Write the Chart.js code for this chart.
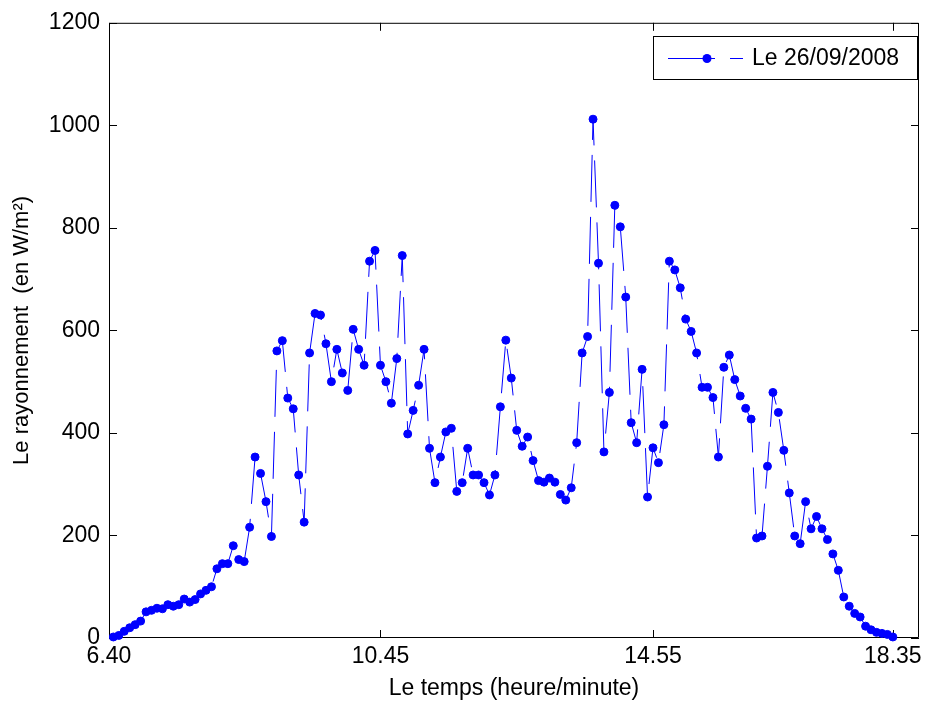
<!DOCTYPE html>
<html>
<head>
<meta charset="utf-8">
<script src="https://cdn.jsdelivr.net/npm/chart.js@4.4.0/dist/chart.umd.min.js"></script>
<style>
  html, body { margin: 0; padding: 0; background: #fff; }
  #chart { display: block; }
</style>
</head>
<body>
<canvas id="chart" width="927" height="704"></canvas>
<script>
// Rayonnement global mesuré toutes les 5 minutes, de 6h40 à 18h35
const dayLabel = "Le 26/09/2008";
const startMinute = 6 * 60 + 40;
const stepMinutes = 5;

const radiation = [
  2, 5, 13, 20, 26, 33, 51, 54, 58, 57, 65, 62, 65, 76, 70, 75, 86, 93, 100, 135,
  145, 145, 180, 153, 149, 216, 353, 321, 266, 198, 560, 580, 468, 447, 318, 226,
  556, 633, 630, 574, 500, 563, 517, 483, 602, 563, 532, 735, 756, 532, 500, 458,
  545, 746, 398, 444, 493, 563, 370, 303, 353, 402, 409, 286, 303, 370, 318, 318,
  303, 279, 318, 451,
  581, 507, 405, 374, 392, 346, 307, 304, 312, 304, 280, 269, 293, 381, 556, 588,
  1012, 731, 363, 479, 844, 802, 665, 420, 381, 524, 275, 371, 342, 416, 735, 718,
  683, 622, 598, 556,
  489, 489, 469, 353, 528, 552, 504, 472, 448, 427, 195, 199, 335, 479, 440, 366,
  283, 199, 184, 266, 213, 237, 213, 192, 164, 132, 80, 62, 48, 41, 23, 16, 11, 9, 7, 2
];

// axe des temps en minutes depuis minuit
const xMin = 396;
const xMax = 1139;
const timeTicks = [396, 645, 895, 1115];
const timeTickLabels = ["6.40", "10.45", "14.55", "18.35"];
const radiationTicks = [0, 200, 400, 600, 800, 1000, 1200];

const points = radiation.map((v, i) => ({ x: startMinute + stepMinutes * i, y: v }));

const BLUE = "#0000ff";
const FONT = "'Liberation Sans', Arial, sans-serif";

// cadre façon Matlab : boîte complète + graduations vers l'intérieur
const axisBox = {
  id: "axisBox",
  beforeDatasetsDraw(chart) {
    const { ctx, chartArea: a, scales } = chart;
    const t = 8;
    ctx.save();
    ctx.strokeStyle = "#000";
    ctx.lineWidth = 1;
    ctx.beginPath();
    ctx.rect(a.left + 0.5, a.top + 0.5, a.right - a.left - 1, a.bottom - a.top - 1);
    radiationTicks.forEach(v => {
      const py = Math.round(scales.y.getPixelForValue(v)) + 0.5;
      ctx.moveTo(a.left, py); ctx.lineTo(a.left + t, py);
      ctx.moveTo(a.right, py); ctx.lineTo(a.right - t, py);
    });
    timeTicks.forEach(v => {
      const px = Math.round(scales.x.getPixelForValue(v)) + 0.5;
      ctx.moveTo(px, a.bottom); ctx.lineTo(px, a.bottom - t);
      ctx.moveTo(px, a.top); ctx.lineTo(px, a.top + t);
    });
    ctx.stroke();
    ctx.restore();
  }
};

// légende encadrée en haut à droite
const boxLegend = {
  id: "boxLegend",
  afterDraw(chart) {
    const { ctx } = chart;
    const ds = chart.data.datasets[0];
    const bx = 653.5, by = 36.5, bw = 264, bh = 43;
    const ly = 58;
    ctx.save();
    ctx.fillStyle = "#fff";
    ctx.strokeStyle = "#000";
    ctx.lineWidth = 1;
    ctx.fillRect(bx, by, bw, bh);
    ctx.strokeRect(bx, by, bw, bh);

    ctx.strokeStyle = ds.borderColor;
    ctx.lineWidth = ds.borderWidth;
    ctx.setLineDash(ds.borderDash);
    ctx.beginPath();
    ctx.moveTo(668, ly + 0.5);
    ctx.lineTo(743, ly + 0.5);
    ctx.stroke();
    ctx.setLineDash([]);

    ctx.fillStyle = ds.pointBackgroundColor;
    ctx.beginPath();
    ctx.arc(707, ly + 0.5, ds.pointRadius + 0.5, 0, Math.PI * 2);
    ctx.fill();

    ctx.fillStyle = "#000";
    ctx.font = "23px " + FONT;
    ctx.textAlign = "left";
    ctx.textBaseline = "middle";
    ctx.fillText(dayLabel, 752, ly + 1);
    ctx.restore();
  }
};

new Chart(document.getElementById("chart"), {
  type: "line",
  data: {
    datasets: [{
      label: dayLabel,
      data: points,
      borderColor: BLUE,
      borderWidth: 1,
      borderDash: [47, 15],
      tension: 0,
      pointRadius: 4,
      pointBorderWidth: 1,
      pointBackgroundColor: BLUE,
      pointBorderColor: BLUE,
      clip: false
    }]
  },
  options: {
    responsive: false,
    animation: false,
    devicePixelRatio: 1,
    layout: { padding: { left: 0, right: 8, top: 22, bottom: 2 } },
    plugins: {
      legend: { display: false },
      tooltip: { enabled: false }
    },
    scales: {
      x: {
        type: "linear",
        min: xMin,
        max: xMax,
        grid: { display: false, drawTicks: false },
        border: { display: false },
        afterBuildTicks: scale => { scale.ticks = timeTicks.map(v => ({ value: v })); },
        afterFit: scale => { scale.height = 704 - 638 - 2; },
        ticks: {
          padding: 5,
          maxRotation: 0,
          autoSkip: false,
          color: "#000",
          font: { family: FONT, size: 23 },
          callback: (v, i) => timeTickLabels[i]
        },
        title: {
          display: true,
          text: "Le temps (heure/minute)",
          color: "#000",
          font: { family: FONT, size: 23 },
          padding: { top: 0, bottom: 0 }
        }
      },
      y: {
        min: 0,
        max: 1200,
        grid: { display: false, drawTicks: false },
        border: { display: false },
        afterBuildTicks: scale => { scale.ticks = radiationTicks.map(v => ({ value: v })); },
        afterFit: scale => { scale.width = 109; },
        ticks: {
          padding: 9,
          color: "#000",
          font: { family: FONT, size: 23 },
          callback: v => String(v)
        },
        title: {
          display: true,
          text: "Le rayonnement  (en W/m²)",
          color: "#000",
          font: { family: FONT, size: 22 },
          padding: { top: 9, bottom: 0 }
        }
      }
    }
  },
  plugins: [axisBox, boxLegend]
});
</script>
</body>
</html>
